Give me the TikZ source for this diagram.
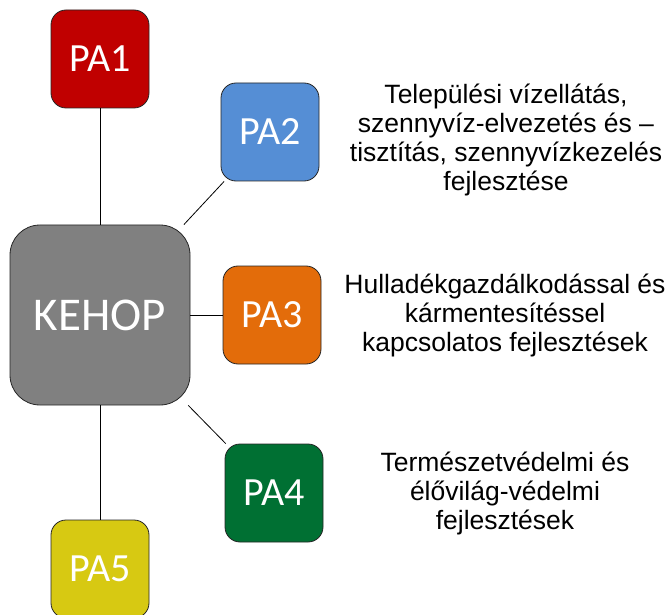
\documentclass[tikz,border=0pt]{standalone}
\usepackage{fontspec}
\setmainfont{Liberation Sans}
\newfontfamily\boxfont{Carlito}
\usetikzlibrary{positioning}

\definecolor{paone}{HTML}{C00000}
\definecolor{patwo}{HTML}{558ED5}
\definecolor{pathree}{HTML}{E36C0A}
\definecolor{pafour}{HTML}{007033}
\definecolor{pafive}{HTML}{D7C912}
\definecolor{kehopgray}{HTML}{808080}

\tikzset{
  pabox/.style={draw=black!85, line width=0.8pt, rounded corners=15pt,
    minimum width=98pt, minimum height=98pt, inner sep=0pt,
    text=white, font=\boxfont\fontsize{40}{48}\selectfont},
  desc/.style={align=center, font=\fontsize{26.5}{29}\selectfont},
  link/.style={black, line width=0.8pt},
}

\begin{document}
\begin{tikzpicture}[x=1pt, y=-1pt]
  \useasboundingbox (0,0) rectangle (670,615);

  % central programme box
  \node[pabox, fill=kehopgray, rounded corners=30pt, minimum width=180pt,
    minimum height=180pt, font=\boxfont\fontsize{47}{56}\selectfont]
    (kehop) at (100,315) {KEHOP};

  % priority axes
  \node[pabox, fill=paone] (pa1) at (100,59) {PA1};
  \node[pabox, fill=patwo] (pa2) at (270,132) {PA2};
  \node[pabox, fill=pathree] (pa3) at (272,315) {PA3};
  \node[pabox, fill=pafour] (pa4) at (274,493) {PA4};
  \node[pabox, fill=pafive] (pa5) at (100,569) {PA5};

  % connectors
  \foreach \p in {pa1,pa2,pa3,pa4,pa5} {
    \draw[link] (kehop) -- (\p);
  }

  % descriptions
  \node[desc] (d2) at (506,140) {Települési vízellátás,\\szennyvíz-elvezetés és --\\tisztítás, szennyvízkezelés\\fejlesztése};
  \node[desc] (d3) at (505,315) {Hulladékgazdálkodással és\\kármentesítéssel\\kapcsolatos fejlesztések};
  \node[desc] (d4) at (505,493) {Természetvédelmi és\\élővilág-védelmi\\fejlesztések};
\end{tikzpicture}
\end{document}
